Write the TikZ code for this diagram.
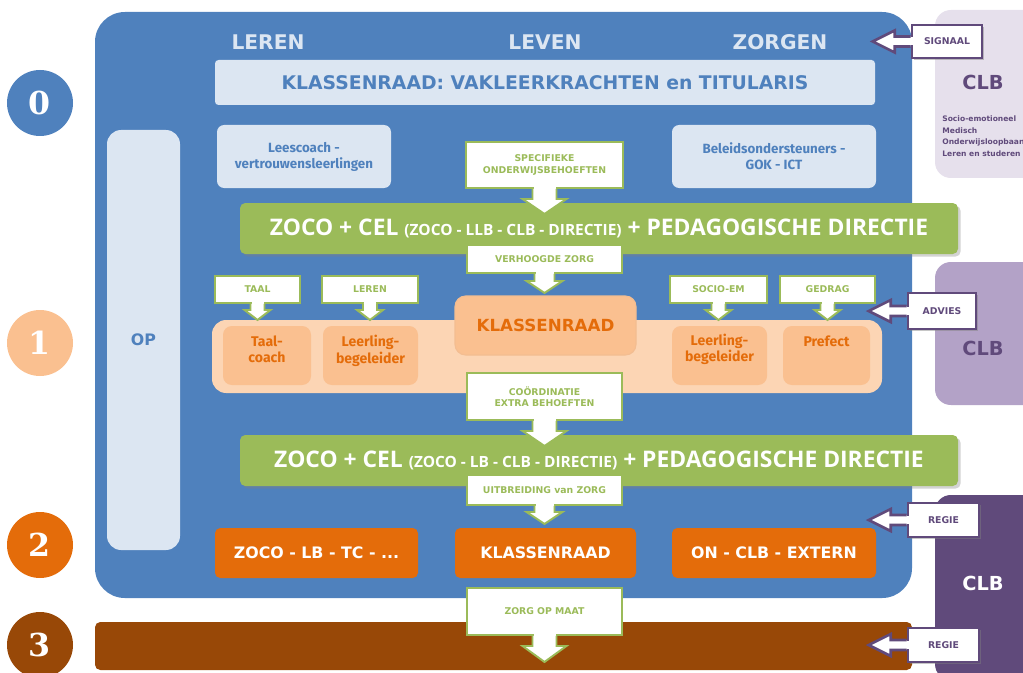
\documentclass[tikz,border=0pt]{standalone}
\usepackage{fontspec}
\setmainfont{DejaVu Sans}
\newfontfamily\fira{Fira Sans}
\newfontfamily\osans{Open Sans}
\newfontfamily\dser{DejaVu Serif}
\usetikzlibrary{calc,shadows}

\definecolor{zblue}{HTML}{4F81BD}
\definecolor{zlight}{HTML}{DCE6F2}
\definecolor{zgreen}{HTML}{9BBB59}
\definecolor{zpeach}{HTML}{FCD5B4}
\definecolor{zapricot}{HTML}{FAC090}
\definecolor{zorange}{HTML}{E46C0A}
\definecolor{zbrown}{HTML}{984807}
\definecolor{clbpale}{HTML}{E6E0EC}
\definecolor{clbmid}{HTML}{B3A2C7}
\definecolor{clbdark}{HTML}{604A7B}

\newcommand{\fsz}[1]{\fontsize{#1}{1.2\dimexpr#1pt\relax}\selectfont}

% arrow under a callout box: node, stem half, head half, stem length, head length
\newcommand{\tipdown}[5]{%
  \fill[white] ($(#1.south)+(-#2+1,-2)$) rectangle ($(#1.south)+(#2-1,1)$);
  \draw[greenline,fill=white] ($(#1.south)+(-#2,0)$) -- ++(0,#4) -- ++(#2-#3,0)
    -- ($(#1.south)+(0,#4+#5)$) -- ($(#1.south)+(#3,#4)$) -- ++(#2-#3,0) -- ++(0,-#4);
}
% arrow left of a callout box
\newcommand{\tipleft}[5]{%
  \fill[white] ($(#1.west)+(2,-#2+1)$) rectangle ($(#1.west)+(-1,#2-1)$);
  \draw[purpleline,fill=white] ($(#1.west)+(0,-#2)$) -- ++(-#4,0) -- ++(0,#2-#3)
    -- ($(#1.west)+(-#4-#5,0)$) -- ($(#1.west)+(-#4,#3)$) -- ++(0,#2-#3) -- ++(#4,0);
}

\tikzset{
  wh/.style 2 args={minimum width=#1*0.02cm, minimum height=#2*0.02cm},
  greenline/.style={draw=zgreen, line width=1.1pt, line join=miter},
  purpleline/.style={draw=clbdark, line width=1.5pt, line join=miter},
  gcall/.style={greenline, fill=white, inner sep=0pt, align=center,
    text=zgreen, font=\bfseries\fsz{5.3}},
  pcall/.style={purpleline, fill=white, inner sep=0pt, text=clbdark,
    font=\bfseries\fsz{5.3},
    drop shadow={shadow xshift=1.2pt, shadow yshift=-1.2pt, opacity=.45}},
  level/.style={circle, minimum size=66*0.02cm, inner sep=0pt, text=white,
    font=\dser\bfseries\fsz{18}},
  lightbox/.style={fill=zlight, rounded corners=4pt, inner sep=0pt,
    align=center, text=zblue, font=\fira\bfseries\fsz{7.6}},
  greenbar/.style={fill=zgreen, rounded corners=3pt, inner sep=0pt,
    text=white, font=\osans\bfseries\fsz{13},
    drop shadow={shadow xshift=1.5pt, shadow yshift=-1.5pt, opacity=.35}},
  orangebox/.style={fill=zorange, rounded corners=3pt, inner sep=0pt,
    text=white, font=\bfseries\fsz{9}},
  innerbox/.style={fill=zapricot, rounded corners=5pt, inner sep=0pt},
  innertext/.style={anchor=north, yshift=-2pt, align=center, text=zorange,
    font=\fira\bfseries\fsz{8}},
  headtxt/.style={text=zlight, font=\bfseries\fsz{11.5}},
  clbtext/.style={font=\bfseries\fsz{11}},
}

\begin{document}
\begin{tikzpicture}[x=0.02cm, y=-0.02cm]
\useasboundingbox (0,0) rectangle (1023,672);

% CLB side
\node[fill=clbpale, rounded corners=9pt, wh={110}{168}] (clbtop) at (990,94) {};
\node[fill=clbmid, rounded corners=9pt, wh={110}{143}] (clbmid) at (990,333.5) {};
\node[fill=clbdark, rounded corners=9pt, wh={110}{185}] (clbbot) at (990,587.5) {};
\node[clbtext, text=clbdark] (clbA) at (983,82) {CLB};
\node[clbtext, text=clbdark] (clbB) at (983,348) {CLB};
\node[clbtext, text=white] (clbC) at (983,583) {CLB};
\node[anchor=north west, inner sep=0pt, align=left, text=clbdark,
  font=\bfseries\fontsize{4.3}{6.8}\selectfont] (clbtasks) at (942,115)
  {Socio-emotioneel\\Medisch\\Onderwijsloopbaan\\Leren en studeren};

% levels
\node[level, fill=zblue] (lvl0) at (40,103) {0};
\node[level, fill=zapricot] (lvl1) at (40,343) {1};
\node[level, fill=zorange] (lvl2) at (40,545) {2};
\node[level, fill=zbrown] (lvl3) at (40,645) {3};

% main block
\node[fill=zblue, rounded corners=17pt, wh={817}{586}] (main) at (503.5,305) {};
\node[fill=zbrown, rounded corners=3pt, wh={817}{48}] (zorg3) at (503.5,646) {};

\node[headtxt] (leren) at (268,42) {LEREN};
\node[headtxt] (leven) at (545,42) {LEVEN};
\node[headtxt] (zorgen) at (780,42) {ZORGEN};

\node[lightbox, rounded corners=2pt, wh={660}{45}, font=\bfseries\fsz{10.7}]
  (klasraad) at (545,82.5) {KLASSENRAAD: VAKLEERKRACHTEN en TITULARIS};
\node[lightbox, rounded corners=8pt, wh={73}{420}, font=\bfseries\fsz{9}]
  (op) at (143.5,340) {OP};
\node[lightbox, wh={174}{63}] (leescoach) at (304,156.5)
  {Leescoach -\\vertrouwensleerlingen};
\node[lightbox, wh={204}{63}] (beleid) at (774,156.5)
  {Beleidsondersteuners -\\GOK - ICT};

% first care cell
\node[greenbar, wh={718}{51}] (zocoA) at (599,228.5)
  {ZOCO + CEL {\fsz{8.8}(ZOCO - LLB - CLB - DIRECTIE)} + PEDAGOGISCHE DIRECTIE};
\node[gcall, wh={157}{46}] (specifiek) at (544.5,165)
  {SPECIFIEKE\\ONDERWIJSBEHOEFTEN};
\tipdown{specifiek}{12}{22}{10}{15}

% level 1 band
\node[fill=zpeach, rounded corners=8pt, wh={670}{73}] (band) at (547,356.5) {};
\node[innerbox, wh={88}{59}, label={[innertext]north:Taal-\\coach}]
  (taalcoach) at (267,355.5) {};
\node[innerbox, wh={95}{59}, label={[innertext]north:Leerling-\\begeleider}]
  (llbA) at (370.5,355.5) {};
\node[innerbox, wh={95}{59}, label={[innertext, yshift=1pt]north:Leerling-\\begeleider}]
  (llbB) at (719.5,355.5) {};
\node[innerbox, wh={87}{59}, label={[innertext, yshift=0pt]north:Prefect}]
  (prefect) at (826.5,355.5) {};
\node[fill=zapricot, draw=zorange!45, line width=.6pt, rounded corners=6pt,
  wh={181}{59}, text=zorange, font=\bfseries\fsz{9.5}] (klasA) at (545.5,325.5)
  {KLASSENRAAD};

\node[gcall, wh={155}{28}] (verhoogd) at (544.5,259) {VERHOOGDE ZORG};
\tipdown{verhoogd}{10}{18}{7}{12}
\node[gcall, wh={85}{27}] (taal) at (257.5,289.5) {TAAL};
\tipdown{taal}{7}{13}{6}{10}
\node[gcall, wh={96}{27}] (lerenB) at (370,289.5) {LEREN};
\tipdown{lerenB}{7}{13}{6}{10}
\node[gcall, wh={97}{27}] (socio) at (718.5,289.5) {SOCIO-EM};
\tipdown{socio}{7}{13}{6}{10}
\node[gcall, wh={95}{27}] (gedrag) at (827.5,289.5) {GEDRAG};
\tipdown{gedrag}{7}{13}{6}{10}

% second care cell
\node[greenbar, wh={718}{51}] (zocoB) at (599,460.5)
  {ZOCO + CEL {\fsz{8.8}(ZOCO - LB - CLB - DIRECTIE)} + PEDAGOGISCHE DIRECTIE};
\node[gcall, wh={155}{47}] (coord) at (544.5,396.5)
  {COÖRDINATIE\\EXTRA BEHOEFTEN};
\tipdown{coord}{12}{22}{10}{15}
\node[gcall, wh={155}{30}] (uitbreid) at (544.5,490) {UITBREIDING van ZORG};
\tipdown{uitbreid}{10}{18}{6}{12}

% level 2
\node[orangebox, wh={203}{50}] (team) at (316.5,553) {ZOCO - LB - TC - ...};
\node[orangebox, wh={181}{50}] (klasB) at (545.5,553) {KLASSENRAAD};
\node[orangebox, wh={204}{50}] (extern) at (774,553) {ON - CLB - EXTERN};

% level 3
\node[gcall, wh={155}{47}] (opmaat) at (544.5,611.5) {ZORG OP MAAT};
\tipdown{opmaat}{12}{22}{10}{16}

% CLB input
\node[pcall, wh={70}{33}] (signaal) at (947,41.5) {SIGNAAL};
\tipleft{signaal}{5}{11}{16}{22}
\node[pcall, wh={68}{36}] (advies) at (942,311) {ADVIES};
\tipleft{advies}{5}{11}{16}{22}
\node[pcall, wh={71}{34}] (regieA) at (943.5,520) {REGIE};
\tipleft{regieA}{5}{11}{16}{22}
\node[pcall, wh={71}{34}] (regieB) at (943.5,645) {REGIE};
\tipleft{regieB}{5}{11}{16}{22}
\end{tikzpicture}
\end{document}
